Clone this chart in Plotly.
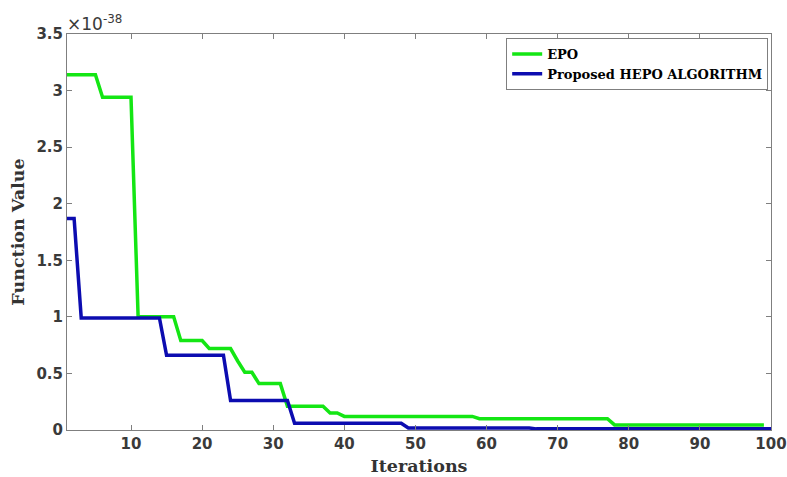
import plotly.graph_objects as go

iterations = list(range(1, 101))

# Values in units of 1e-38
epo = ([3.14] * 5 + [2.94] * 5 + [1.0] * 6 + [0.79] * 4 + [0.72] * 4 + [0.61]
       + [0.51] * 2 + [0.41] * 4 + [0.21] * 6 + [0.15] * 2 + [0.12] * 19
       + [0.10] * 19 + [0.045] * 22)
hepo = ([1.87] * 2 + [0.99] * 12 + [0.66] * 9 + [0.26] * 9 + [0.06] * 16
        + [0.018] * 18 + [0.01] * 34)

series_names = ["EPO", "Proposed HEPO ALGORITHM"]
x_ticks = [10, 20, 30, 40, 50, 60, 70, 80, 90, 100]
y_ticks = [0, 0.5, 1, 1.5, 2, 2.5, 3, 3.5]
y_tick_text = ["0", "0.5", "1", "1.5", "2", "2.5", "3", "3.5"]

fig = go.Figure()
fig.add_trace(go.Scatter(x=iterations, y=epo, mode="lines", name=series_names[0],
                         line=dict(color="#14e614", width=3.5)))
fig.add_trace(go.Scatter(x=iterations, y=hepo, mode="lines", name=series_names[1],
                         line=dict(color="#0c0cb0", width=3.5)))

tick_font = dict(family="DejaVu Sans", size=15, color="#3a3a3a", weight="bold")
title_font = dict(family="DejaVu Serif", size=17.5, color="#333333", weight="bold")

fig.update_layout(
    width=787, height=477,
    margin=dict(l=67, r=16, t=34, b=47),
    paper_bgcolor="white", plot_bgcolor="white",
    showlegend=True,
    legend=dict(x=0.996, y=0.99, xanchor="right", yanchor="top",
                bgcolor="white", bordercolor="#7f7f7f", borderwidth=1,
                font=dict(family="DejaVu Serif", size=13, color="black", weight="bold"),
                tracegroupgap=0, itemwidth=30),
    xaxis=dict(range=[1, 100], tickvals=x_ticks, ticks="inside", ticklen=5,
               tickcolor="#7f7f7f", showline=True, linecolor="#7f7f7f", linewidth=1,
               mirror="ticks", showgrid=False, zeroline=False, automargin=False,
               tickfont=tick_font,
               title=dict(text="Iterations", font=title_font, standoff=7)),
    yaxis=dict(range=[0, 3.5], tickvals=y_ticks, ticktext=y_tick_text, ticks="inside",
               ticklen=5, tickcolor="#7f7f7f", showline=True, linecolor="#7f7f7f",
               linewidth=1, mirror="ticks", showgrid=False, zeroline=False,
               automargin=False, tickfont=tick_font,
               title=dict(text="Function Value", font=title_font, standoff=7)),
    annotations=[dict(text="×10<sup>-38</sup>", xref="paper", yref="paper",
                      x=0, y=1, xanchor="left", yanchor="bottom", showarrow=False,
                      xshift=-2, yshift=-2,
                      font=dict(family="DejaVu Sans", size=17, color="#3a3a3a"))],
)

fig.write_html(
    "out.html",
    config={"displayModeBar": False},
    post_script="document.body.style.margin='0';document.body.style.overflow='hidden';",
)
